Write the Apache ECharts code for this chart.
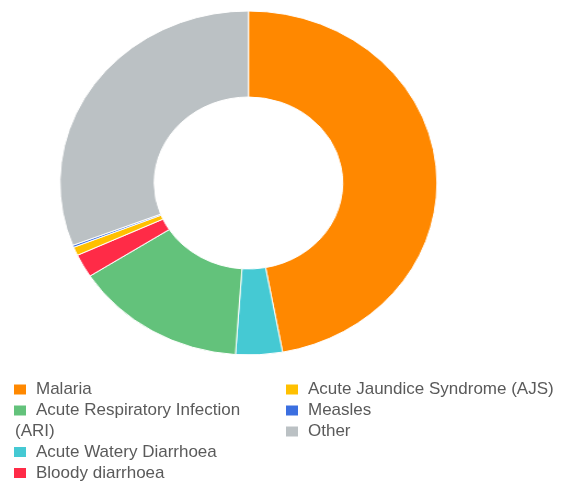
<!DOCTYPE html>
<html>
<head>
<meta charset="utf-8">
<script src="https://cdn.jsdelivr.net/npm/echarts@6/dist/echarts.min.js"></script>
<style>
  html, body { margin: 0; padding: 0; background: #fff; }
  #wrap { position: relative; width: 563px; height: 487px; overflow: hidden; }
  #pie { position: absolute; left: 0; top: 0; width: 514px; height: 370px; transform-origin: 0 0; transform: scaleX(1.096); }
  #leg { position: absolute; left: 0; top: 0; width: 563px; height: 487px; }
</style>
</head>
<body>
<div id="wrap"><div id="pie"></div><div id="leg"></div></div>
<script>
// Slices in clockwise order starting at 12 o'clock
const categories = ['Malaria', 'Acute Watery Diarrhoea', 'Acute Respiratory Infection (ARI)', 'Bloody diarrhoea', 'Acute Jaundice Syndrome (AJS)', 'Measles', 'Other'];
const values = [47.1, 4.0, 14.8, 2.2, 0.8, 0.2, 30.9];
// Legend columns
const legendColA1 = ['Malaria', 'Acute Respiratory Infection (ARI)'];
const legendColA2 = ['Acute Watery Diarrhoea', 'Bloody diarrhoea'];
const legendColB = ['Acute Jaundice Syndrome (AJS)', 'Measles', 'Other'];

const colorMap = {
  'Malaria': '#FF8800',
  'Acute Watery Diarrhoea': '#45C9D3',
  'Acute Respiratory Infection (ARI)': '#63C27B',
  'Bloody diarrhoea': '#FF2B47',
  'Acute Jaundice Syndrome (AJS)': '#FFC000',
  'Measles': '#3B6FE0',
  'Other': '#BBC1C4'
};

const data = categories.map((c, i) => ({ name: c, value: values[i], itemStyle: { color: colorMap[c] } }));

const pie = echarts.init(document.getElementById('pie'));
pie.setOption({
  animation: false,
  series: [{
    type: 'pie',
    center: [226.7, 183],
    radius: [86, 172],
    startAngle: 90,
    clockwise: true,
    label: { show: false },
    labelLine: { show: false },
    emphasis: { disabled: true },
    itemStyle: { borderColor: '#fff', borderWidth: 1 },
    data: data
  }]
});

const fontFamily = '"Liberation Sans", Arial, sans-serif';
const legendText = {
  color: '#5a5a5a',
  fontSize: 17,
  fontFamily: fontFamily,
  lineHeight: 21,
  padding: [0, 0, 0, 5]
};
function mkLegend(names, left, top) {
  return {
    data: names,
    orient: 'vertical',
    left: left,
    top: top,
    padding: 0,
    itemGap: 0,
    itemWidth: 12,
    itemHeight: 10,
    icon: 'rect',
    selectedMode: false,
    textStyle: legendText,
    formatter: function (n) { return n === 'Acute Respiratory Infection (ARI)' ? 'Acute Respiratory Infection' : n; }
  };
}

const leg = echarts.init(document.getElementById('leg'));
leg.setOption({
  animation: false,
  legend: [
    mkLegend(legendColA1, 14, 379),
    mkLegend(legendColA2, 14, 441.5),
    mkLegend(legendColB, 286, 379)
  ],
  graphic: [{
    type: 'text',
    left: 15,
    top: 423,
    style: { text: '(ARI)', fill: '#5a5a5a', fontSize: 17, fontFamily: fontFamily }
  }],
  series: [{
    type: 'pie',
    radius: [0, 0],
    center: [-100, -100],
    silent: true,
    label: { show: false },
    labelLine: { show: false },
    data: data
  }]
});
</script>
</body>
</html>
